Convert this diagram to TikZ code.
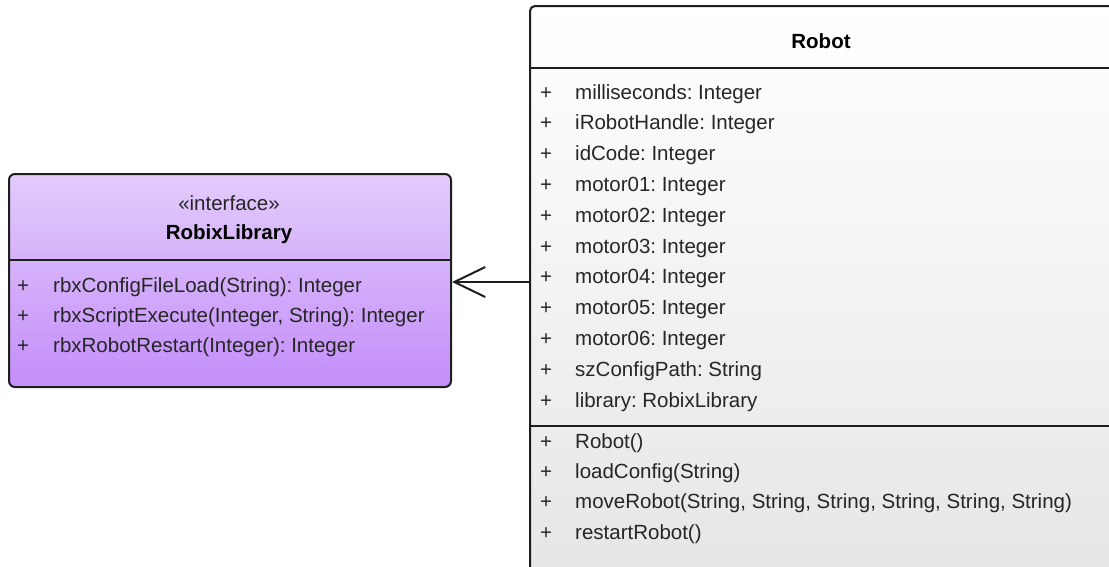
\documentclass[tikz,border=0pt]{standalone}
\usepackage{fontspec}
\setmainfont{Liberation Sans}
\usetikzlibrary{arrows.meta}
\frenchspacing

\definecolor{ink}{HTML}{262626}
\definecolor{edgecol}{HTML}{1E1E1E}
\definecolor{lavtop}{RGB}{227,203,251}
\definecolor{lavbot}{RGB}{195,142,249}
\definecolor{graybot}{RGB}{229,229,229}

\tikzset{
  umlfont/.style={font=\fontsize{20.5}{24}\selectfont},
  classbox/.style={draw=edgecol, line width=2pt, inner sep=0pt, anchor=north west},
  divider/.style={draw=edgecol, line width=2pt},
  member/.style={umlfont, anchor=base west, inner sep=0pt, text=ink},
  vis/.style={member},
  classname/.style={umlfont, anchor=base, inner sep=0pt, text=black, font=\fontsize{20.5}{24}\selectfont\bfseries},
  stereo/.style={umlfont, anchor=base, inner sep=0pt, text=ink},
  assoc/.style={draw=edgecol, line width=2pt,
    -{Straight Barb[length=31pt,width=30pt,line width=2pt]}}
}

\begin{document}
\begin{tikzpicture}[x=1pt,y=-1pt]
\useasboundingbox (0,0) rectangle (1109,566);
\clip (0,0) rectangle (1109,566);

% Robot class (runs past the right and bottom edges)
\node[classbox, rounded corners=5pt, top color=white, bottom color=graybot,
      minimum width=600pt, minimum height=590pt] (robot) at (529,5) {};
\coordinate (rhead) at (0,68);
\coordinate (rops) at (0,426);
\draw[divider] (robot.west |- rhead) -- (robot.east |- rhead);
\draw[divider] (robot.west |- rops) -- (robot.east |- rops);
\node[classname] (robottitle) at (821,48) {Robot};

\foreach [count=\i] \t in {milliseconds: Integer, iRobotHandle: Integer,
    idCode: Integer, motor01: Integer, motor02: Integer, motor03: Integer,
    motor04: Integer, motor05: Integer, motor06: Integer,
    szConfigPath: String, library: RobixLibrary} {
  \node[vis] (attrvis\i) at (540, {99+30.8*(\i-1)}) {+};
  \node[member] (attr\i) at (575, {99+30.8*(\i-1)}) {\t};
}
\foreach [count=\i] \t in {{Robot()}, {loadConfig(String)},
    {moveRobot(String, String, String, String, String, String)},
    {restartRobot()}} {
  \node[vis] (opvis\i) at (540, {448+30.4*(\i-1)}) {+};
  \node[member] (op\i) at (575, {448+30.4*(\i-1)}) {\t};
}

% RobixLibrary interface
\node[classbox, rounded corners=6pt, top color=lavtop, bottom color=lavbot,
      minimum width=442pt, minimum height=213pt] (lib) at (8,173) {};
\coordinate (lhead) at (0,260);
\draw[divider] (lib.west |- lhead) -- (lib.east |- lhead);
\node[stereo] (libstereo) at (229,210) {«interface»};
\node[classname] (libtitle) at (229,239) {RobixLibrary};
\foreach [count=\i] \t in {{rbxConfigFileLoad(String): Integer},
    {rbxScriptExecute(Integer, String): Integer},
    {rbxRobotRestart(Integer): Integer}} {
  \node[vis] (libvis\i) at (17, {292+30*(\i-1)}) {+};
  \node[member] (libop\i) at (53, {292+30*(\i-1)}) {\t};
}

% association Robot -> RobixLibrary
\coordinate (assocy) at (0,282);
\draw[assoc] (robot.west |- assocy) -- (lib.east |- assocy);
\end{tikzpicture}
\end{document}
